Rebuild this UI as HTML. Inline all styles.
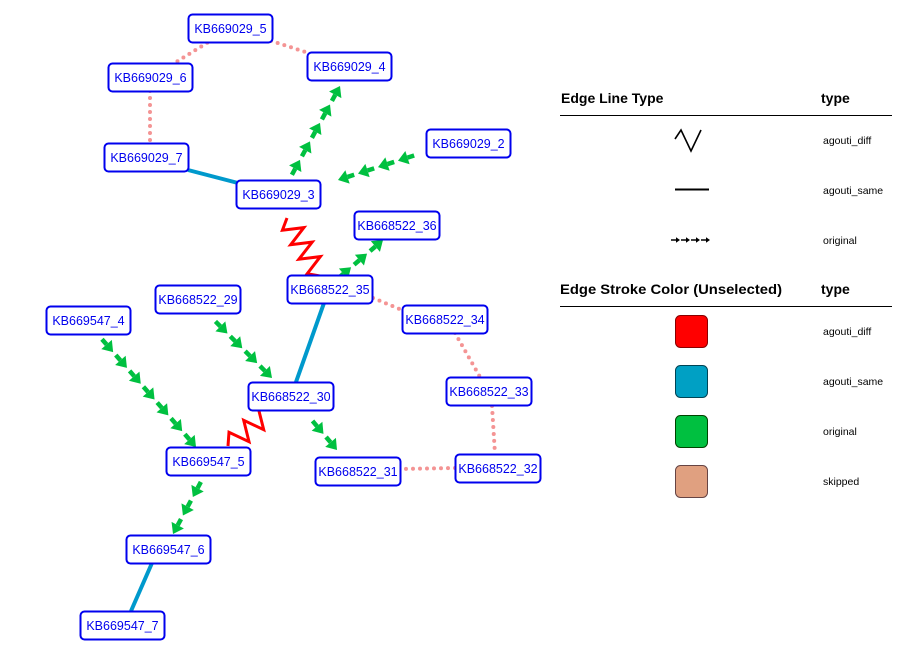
<!DOCTYPE html>
<html><head><meta charset="utf-8"><style>
html,body{margin:0;padding:0;background:#fff;width:903px;height:657px;overflow:hidden}
svg text{font-family:"Liberation Sans",sans-serif}
</style></head><body>
<svg id="s" width="903" height="657" xmlns="http://www.w3.org/2000/svg">
<g id="edges"></g>
<g id="nodes"></g>
<g font-size="14" font-weight="bold" fill="#000">
<text x="561" y="103">Edge Line Type</text>
<text x="821" y="103">type</text>
<text x="560" y="294" textLength="222" lengthAdjust="spacingAndGlyphs">Edge Stroke Color (Unselected)</text>
<text x="821" y="294">type</text>
</g>
<line x1="560" y1="115.5" x2="892" y2="115.5" stroke="#000"/>
<line x1="560" y1="306.5" x2="892" y2="306.5" stroke="#000"/>
<g font-size="10.5" fill="#000">
<text x="823" y="144">agouti_diff</text>
<text x="823" y="194">agouti_same</text>
<text x="823" y="244">original</text>
<text x="823" y="335">agouti_diff</text>
<text x="823" y="385">agouti_same</text>
<text x="823" y="435">original</text>
<text x="823" y="485">skipped</text>
</g>
<polyline points="675,139 681,130 691,151 701,130" fill="none" stroke="#000" stroke-width="1.6"/>
<line x1="675" y1="189.5" x2="709" y2="189.5" stroke="#000" stroke-width="2"/>
<g id="legarrows"></g>
<rect x="675.5" y="315.5" width="32" height="32" rx="5" fill="#ff0000" stroke="#800" />
<rect x="675.5" y="365.5" width="32" height="32" rx="5" fill="#00a0c4" stroke="#045" />
<rect x="675.5" y="415.5" width="32" height="32" rx="5" fill="#00c040" stroke="#040" />
<rect x="675.5" y="465.5" width="32" height="32" rx="5" fill="#e0a080" stroke="#644" />
</svg>
<script>
const NS="http://www.w3.org/2000/svg";
const E=document.getElementById('edges'),N=document.getElementById('nodes');
function el(t,a,p){const e=document.createElementNS(NS,t);for(const k in a)e.setAttribute(k,a[k]);(p||E).appendChild(e);return e;}
[[231,28,152,77],[231,28,349,66],[150,91,150,143],[373,298,402,310],[455,333,480,377],[492,406,495,454],[399,469,455,468]].forEach(c=>{
el('line',{x1:c[0],y1:c[1],x2:c[2],y2:c[3],stroke:'#f49494','stroke-width':4,'stroke-dasharray':'0 7','stroke-linecap':'round'});});
[[188,170,238,183],[324,303,296,382],[152,563,131,611]].forEach(c=>{
el('line',{x1:c[0],y1:c[1],x2:c[2],y2:c[3],stroke:'#0099cc','stroke-width':4});});
function zig(x1,y1,x2,y2,n,a){const dx=x2-x1,dy=y2-y1,L=Math.hypot(dx,dy),ux=dx/L,uy=dy/L,px=-uy,py=ux;let pts=[];
for(let i=0;i<=2*n;i++){const t=i/(2*n);let o=(i==0||i==2*n)?0:(i%2?a:-a);pts.push((x1+dx*t+px*o).toFixed(1)+','+(y1+dy*t+py*o).toFixed(1));}
el('polyline',{points:pts.join(' '),fill:'none',stroke:'#ff0000','stroke-width':3});}
zig(287,218,320,276,4,10);
zig(272,410,228,446,3,10);
function arr(x1,y1,x2,y2,g,col,w,hl,hw,dl,per){g=g||E;const dx=x2-x1,dy=y2-y1,L=Math.hypot(dx,dy),ux=dx/L,uy=dy/L,px=-uy,py=ux;
let s=L%per;if(s<hl)s+=per;for(let d=s;d<=L+0.1;d+=per){const tx=x1+ux*d,ty=y1+uy*d,bx=tx-ux*hl,by=ty-uy*hl;
el('polygon',{points:`${tx},${ty} ${bx+px*hw},${by+py*hw} ${bx-px*hw},${by-py*hw}`,fill:col},g);
el('line',{x1:bx-ux*dl,y1:by-uy*dl,x2:bx,y2:by,stroke:col,'stroke-width':w},g);}}
[[288,182,340,86],[425,152,338,180],[342,275,383,240],[210,316,272,378],[100,337,196,447],[305,412,337,450],[203,478,173,534]].forEach(c=>arr(c[0],c[1],c[2],c[3],E,'#00c040',4.5,10,7,7,21));
const LG=document.getElementById('legarrows');
arr(671,240,710,240,LG,'#000',1.5,4,2.8,5,10);
[["KB669029_5",188,14],["KB669029_4",307,52],["KB669029_6",108,63],["KB669029_2",426,129],["KB669029_7",104,143],["KB669029_3",236,180],["KB668522_36",354,211],["KB668522_35",287,275],["KB668522_29",155,285],["KB669547_4",46,306],["KB668522_34",402,305],["KB668522_33",446,377],["KB668522_30",248,382],["KB669547_5",166,447],["KB668522_31",315,457],["KB668522_32",455,454],["KB669547_6",126,535],["KB669547_7",80,611]].forEach(n=>{
const w=n[0].length>10?85:84;
el('rect',{x:n[1]+0.5,y:n[2]+0.5,width:w,height:28,rx:4,fill:'#fff',stroke:'#0000ee','stroke-width':2},N);
const t=el('text',{x:n[1]+w/2+0.5,y:n[2]+19,'text-anchor':'middle','font-size':12.5,fill:'#0000ee'},N);t.textContent=n[0];});
</script>
</body></html>
